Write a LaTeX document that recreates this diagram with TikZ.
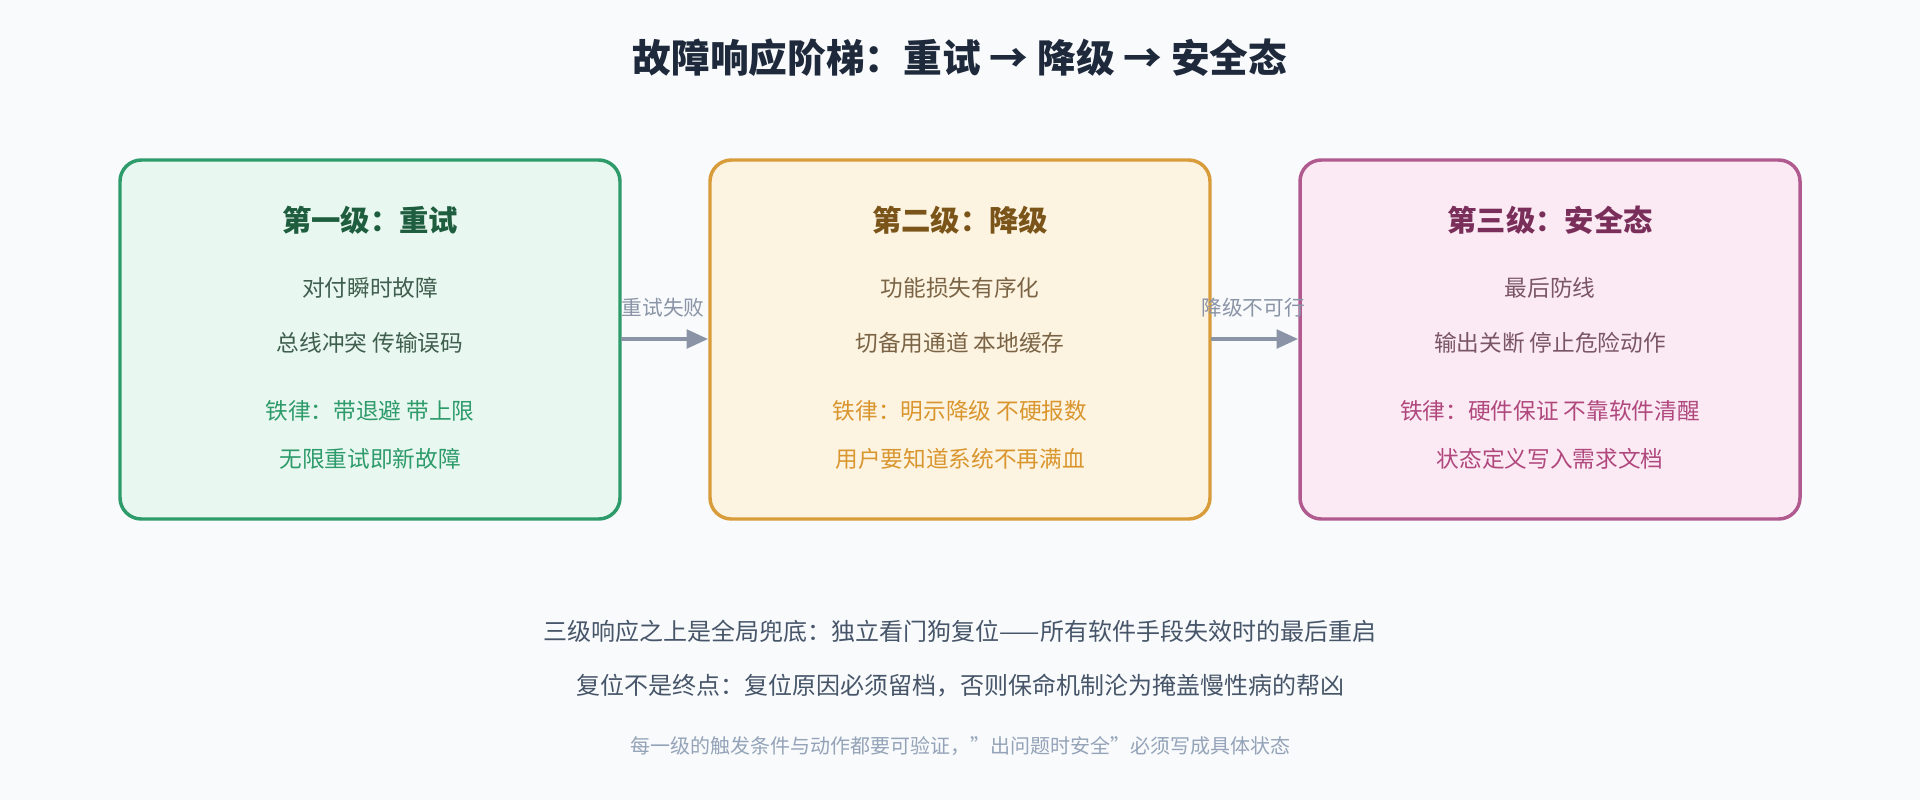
\documentclass[tikz,border=0pt]{standalone}
\usepackage{fontspec}
\setmainfont{Noto Sans CJK SC}
\usetikzlibrary{arrows.meta}
\definecolor{bg}{HTML}{F8FAFC}
\definecolor{gB}{HTML}{2E9B6B}\definecolor{gF}{HTML}{E8F7EF}\definecolor{gH}{HTML}{1E5E3E}\definecolor{gT}{HTML}{3F5E4E}
\definecolor{oB}{HTML}{D99C3A}\definecolor{oF}{HTML}{FDF3E1}\definecolor{oH}{HTML}{7A5418}\definecolor{oT}{HTML}{7A6445}\definecolor{oR}{HTML}{D9962E}
\definecolor{pB}{HTML}{B05A8F}\definecolor{pF}{HTML}{FBEAF3}\definecolor{pH}{HTML}{7A2E5A}\definecolor{pT}{HTML}{7A5568}\definecolor{pR}{HTML}{B0487E}
\definecolor{arr}{HTML}{8A94A6}\definecolor{ttl}{HTML}{1E293B}\definecolor{bt}{HTML}{475569}\definecolor{lt}{HTML}{94A3B8}
\tikzset{
 box/.style={draw=#1B,fill=#1F,line width=2.6pt,rounded corners=16pt},
 hd/.style={font=\fontsize{22}{26}\selectfont\bfseries,anchor=center},
 bd/.style={font=\fontsize{17}{20}\selectfont,anchor=center},
 al/.style={font=\fontsize{15.5}{18}\selectfont,text=arr,anchor=center},
 con/.style={draw=arr,line width=2.4pt,-{Triangle[length=16pt,width=14pt]}},
}
\begin{document}
\begin{tikzpicture}[x=0.75pt,y=-0.75pt]
\fill[bg] (0,0) rectangle (1920,800);
\node[font=\fontsize{29}{34}\selectfont\bfseries,text=ttl] (title) at (960,58) {故障响应阶梯：重试 → 降级 → 安全态};
% boxes
\draw[box=g] (120,160) rectangle (620,519);
\draw[box=o] (710,160) rectangle (1210,519);
\draw[box=p] (1300,160) rectangle (1800,519);
\coordinate (b1e) at (621,339); \coordinate (b2w) at (708,339);
\coordinate (b2e) at (1211,339); \coordinate (b3w) at (1298,339);
% box 1
\node[hd,text=gH] (h1) at (370,220) {第一级：重试};
\node[bd,text=gT] (a1) at (370,288) {对付瞬时故障};
\node[bd,text=gT] (b1) at (370,343) {总线冲突 传输误码};
\node[bd,text=gB] (c1) at (370,411) {铁律：带退避 带上限};
\node[bd,text=gB] (d1) at (370,459) {无限重试即新故障};
% box 2
\node[hd,text=oH] (h2) at (960,220) {第二级：降级};
\node[bd,text=oT] (a2) at (960,288) {功能损失有序化};
\node[bd,text=oT] (b2) at (960,343) {切备用通道 本地缓存};
\node[bd,text=oR] (c2) at (960,411) {铁律：明示降级 不硬报数};
\node[bd,text=oR] (d2) at (960,459) {用户要知道系统不再满血};
% box 3
\node[hd,text=pH] (h3) at (1550,220) {第三级：安全态};
\node[bd,text=pT] (a3) at (1550,288) {最后防线};
\node[bd,text=pT] (b3) at (1550,343) {输出关断 停止危险动作};
\node[bd,text=pR] (c3) at (1550,411) {铁律：硬件保证 不靠软件清醒};
\node[bd,text=pR] (d3) at (1550,459) {状态定义写入需求文档};
% connectors
\draw[con] (b1e) -- (b2w);
\draw[con] (b2e) -- (b3w);
\node[al] (l1) at (663,308) {重试失败};
\node[al] (l2) at (1253,308) {降级不可行};
% bottom
\node[font=\fontsize{18}{22}\selectfont,text=bt] (n1) at (960,631) {三级响应之上是全局兜底：独立看门狗复位——所有软件手段失效时的最后重启};
\node[font=\fontsize{18}{22}\selectfont,text=bt] (n2) at (960,686) {复位不是终点：复位原因必须留档，否则保命机制沦为掩盖慢性病的帮凶};
\node[font=\fontsize{15}{18}\selectfont,text=lt] (n3) at (960,746) {每一级的触发条件与动作都要可验证，"出问题时安全"必须写成具体状态};
\end{tikzpicture}
\end{document}
